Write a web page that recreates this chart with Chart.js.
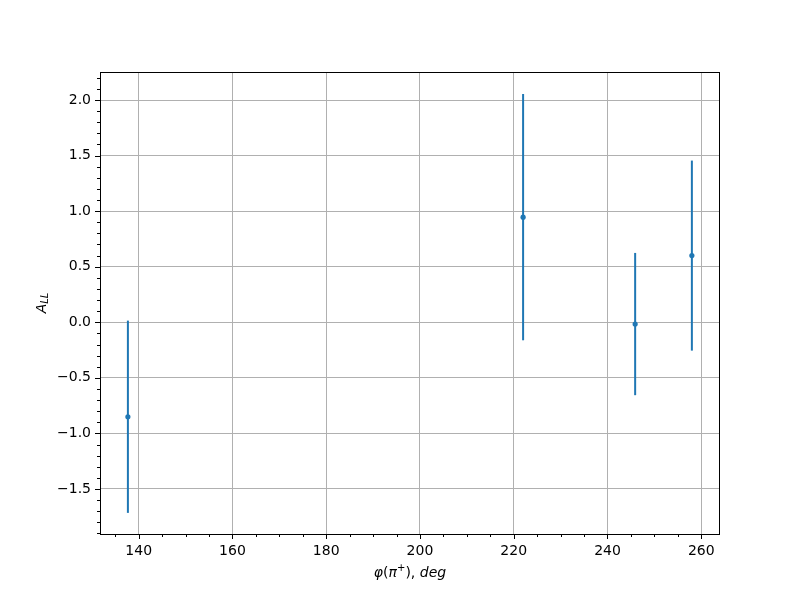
<!DOCTYPE html>
<html>
<head>
<meta charset="utf-8">
<script src="https://cdn.jsdelivr.net/npm/chart.js@4/dist/chart.umd.min.js"></script>
<style>
  html, body { margin: 0; padding: 0; background: #fff; }
  #wrap { width: 800px; height: 600px; }
</style>
</head>
<body>
<div id="wrap"><canvas id="myChart" width="800" height="600"></canvas></div>
<script>
// data
const phiValues = [137.7, 222.0, 245.9, 258.0]
const allValues = [-0.85, 0.946, -0.016, 0.60]
const allErrors = [0.865, 1.108, 0.64, 0.855]

const xTicks = [140, 160, 180, 200, 220, 240, 260]
const yTicks = [-1.5, -1.0, -0.5, 0.0, 0.5, 1.0, 1.5, 2.0]

const blue = '#1f77b4'
const font = 'DejaVu Sans'

// draws a row of text pieces (italic / superscript / subscript) centred on 0,0
function drawPieces(ctx, pieces) {
  let total = 0
  pieces.forEach(p => {
    ctx.font = (p.it ? 'italic ' : '') + (p.small ? 10 : 14) + 'px "' + font + '"'
    p.w = ctx.measureText(p.t).width
    total += p.w
  })
  let x = -total / 2
  pieces.forEach(p => {
    ctx.font = (p.it ? 'italic ' : '') + (p.small ? 10 : 14) + 'px "' + font + '"'
    ctx.fillText(p.t, x, p.dy || 0)
    x += p.w
  })
}

const extras = {
  id: 'extras',
  beforeDatasetsDraw(chart) {
    // error bars, under the markers
    const ctx = chart.ctx
    const xs = chart.scales.x
    const ys = chart.scales.y
    ctx.save()
    ctx.strokeStyle = blue
    ctx.lineWidth = 2
    phiValues.forEach((phi, i) => {
      const px = xs.getPixelForValue(phi)
      ctx.beginPath()
      ctx.moveTo(px, ys.getPixelForValue(allValues[i] + allErrors[i]))
      ctx.lineTo(px, ys.getPixelForValue(allValues[i] - allErrors[i]))
      ctx.stroke()
    })
    ctx.restore()
  },
  afterDraw(chart) {
    const ctx = chart.ctx
    const a = chart.chartArea
    const xs = chart.scales.x
    const ys = chart.scales.y
    ctx.save()
    ctx.strokeStyle = '#000'
    ctx.lineWidth = 1
    ctx.strokeRect(Math.round(a.left) + 0.5, Math.round(a.top) + 0.5,
      Math.round(a.right - a.left) - 1, Math.round(a.bottom - a.top))

    // tick marks, major and minor
    ctx.beginPath()
    for (let v = Math.ceil(xs.min / 5) * 5; v <= xs.max; v += 5) {
      const px = Math.round(xs.getPixelForValue(v)) + 0.5
      const len = v % 20 === 0 ? 5 : 3
      ctx.moveTo(px, a.bottom)
      ctx.lineTo(px, a.bottom + len)
    }
    for (let k = Math.ceil(ys.min * 10); k <= ys.max * 10; k++) {
      const py = Math.round(ys.getPixelForValue(k / 10)) + 0.5
      const len = k % 5 === 0 ? 5 : 3
      ctx.moveTo(a.left, py)
      ctx.lineTo(a.left - len, py)
    }
    ctx.stroke()

    // axis titles
    ctx.fillStyle = '#000'
    ctx.textBaseline = 'middle'
    ctx.textAlign = 'left'
    ctx.save()
    ctx.translate((a.left + a.right) / 2, 573)
    drawPieces(ctx, [
      { t: 'φ', it: true },
      { t: '(' },
      { t: 'π', it: true },
      { t: '+', small: true, dy: -5 },
      { t: '), ' },
      { t: 'deg', it: true }
    ])
    ctx.restore()
    ctx.save()
    ctx.translate(42, (a.top + a.bottom) / 2)
    ctx.rotate(-Math.PI / 2)
    drawPieces(ctx, [
      { t: 'A', it: true },
      { t: 'LL', it: true, small: true, dy: 3 }
    ])
    ctx.restore()
    ctx.restore()
  }
}

const ctx = document.getElementById('myChart').getContext('2d')

new Chart(ctx, {
  type: 'scatter',
  data: {
    datasets: [
      {
        data: phiValues.map((x, i) => ({ x: x, y: allValues[i] })),
        backgroundColor: blue,
        borderColor: blue,
        pointRadius: 2.6,
        pointBorderWidth: 0,
        showLine: false
      }
    ]
  },
  options: {
    responsive: false,
    animation: false,
    layout: { padding: { left: 0, right: 80, top: 72, bottom: 0 } },
    plugins: { legend: { display: false }, tooltip: { enabled: false } },
    scales: {
      x: {
        type: 'linear',
        min: 131.75,
        max: 264.0,
        afterFit: s => { s.height = 66 },
        afterBuildTicks: s => { s.ticks = xTicks.map(v => ({ value: v })) },
        grid: { color: '#b0b0b0', lineWidth: 1, drawTicks: false },
        border: { display: false },
        ticks: {
          padding: 9,
          color: '#000',
          maxRotation: 0,
          font: { family: font, size: 14 }
        }
      },
      y: {
        type: 'linear',
        min: -1.905,
        max: 2.252,
        afterFit: s => { s.width = 100 },
        afterBuildTicks: s => { s.ticks = yTicks.map(v => ({ value: v })) },
        grid: { color: '#b0b0b0', lineWidth: 1, drawTicks: false },
        border: { display: false },
        ticks: {
          padding: 9,
          color: '#000',
          font: { family: font, size: 14 },
          callback: v => (v < 0 ? '\u2212' : '') + Math.abs(v).toFixed(1)
        }
      }
    }
  },
  plugins: [extras]
})
</script>
</body>
</html>
